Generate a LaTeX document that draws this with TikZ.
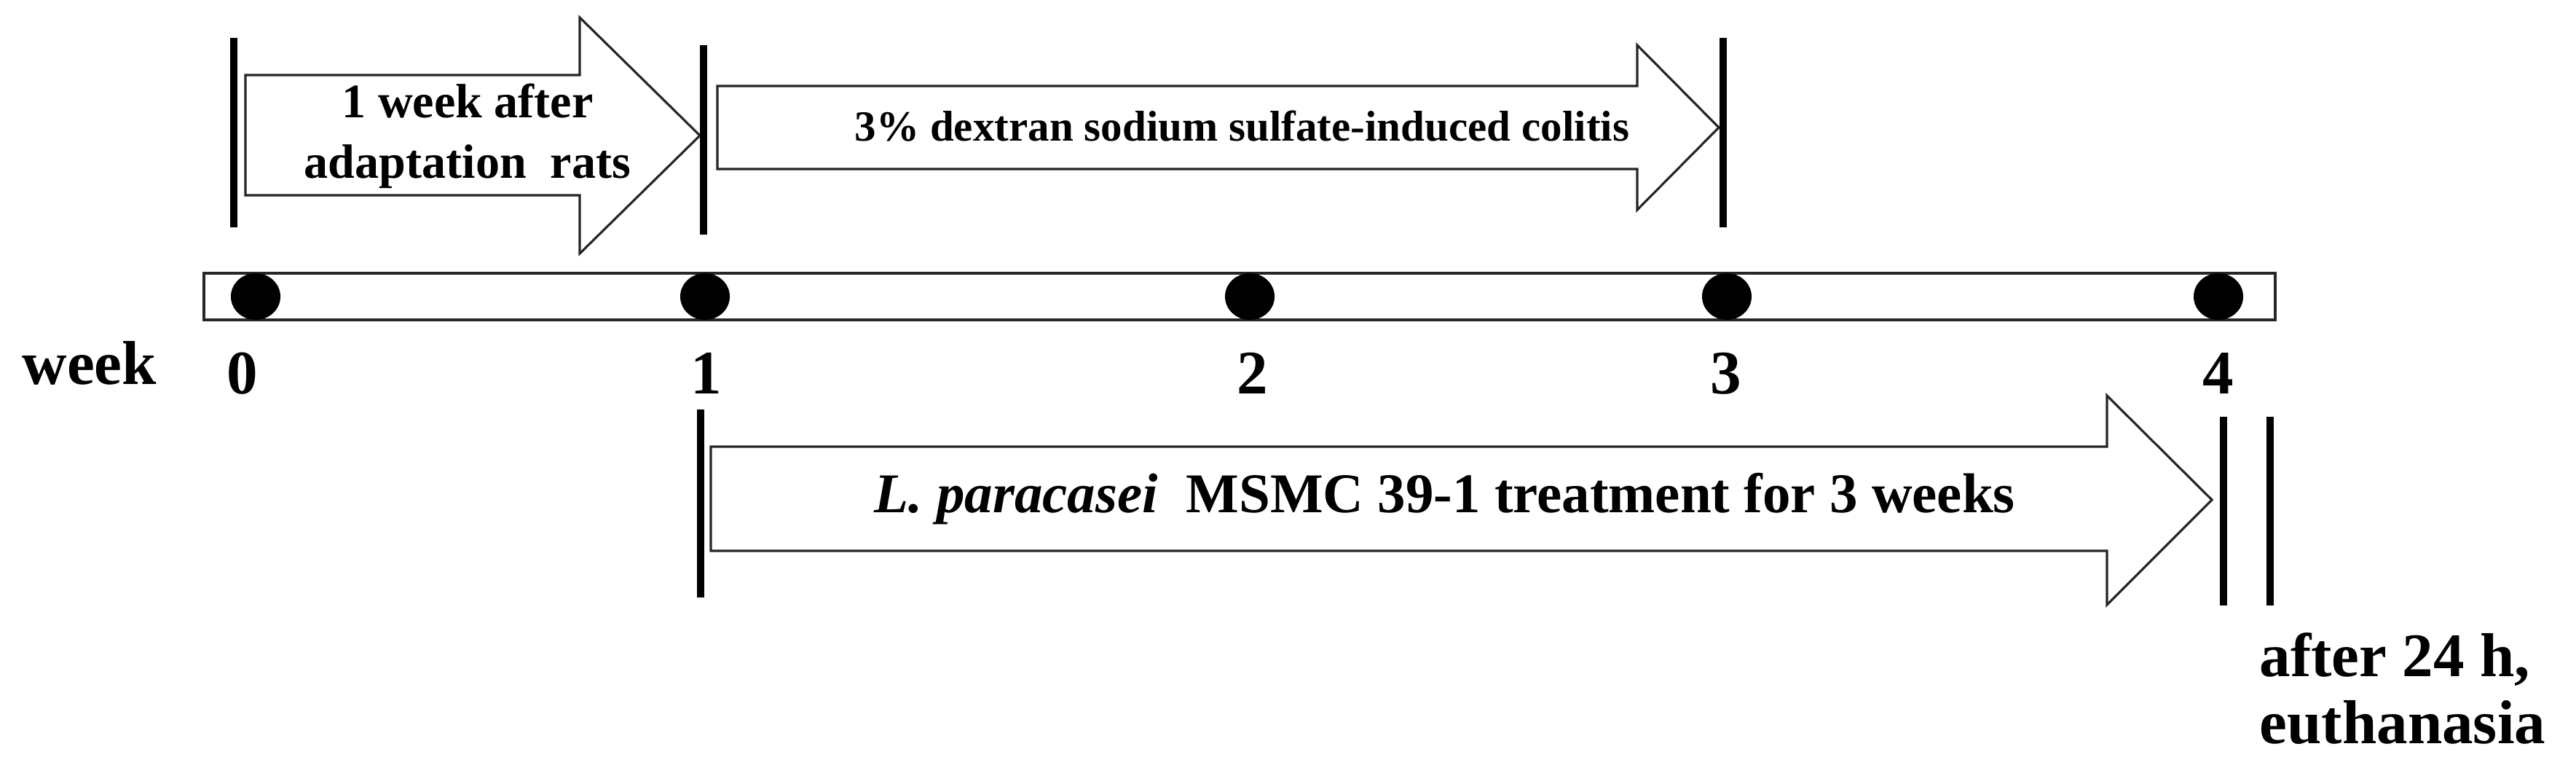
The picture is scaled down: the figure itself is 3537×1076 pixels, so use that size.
\documentclass[tikz,border=0pt]{standalone}
\usepackage{fontspec}
\setmainfont{Liberation Serif}
\usetikzlibrary{shapes.geometric}
\begin{document}
\begin{tikzpicture}[x=0.01cm,y=-0.01cm,
  arrowbox/.style={draw=black!85, line width=0.9pt, fill=white, line join=miter},
  tickbar/.style={line width=2.6pt, black},
  dotmark/.style={ellipse, fill=black, draw=none, minimum width=0.68cm, minimum height=0.64cm, inner sep=0pt},
  weeklab/.style={font=\bfseries\fontsize{24.2}{28}\selectfont, inner sep=0pt, anchor=base},
  txtA/.style={font=\bfseries\fontsize{18.8}{22}\selectfont, inner sep=0pt, anchor=base},
  txtB/.style={font=\bfseries\fontsize{16.8}{20}\selectfont, inner sep=0pt, anchor=base west},
  txtC/.style={font=\bfseries\fontsize{21.9}{26}\selectfont, inner sep=0pt, anchor=base west},
  txtD/.style={font=\bfseries\fontsize{24.2}{28}\selectfont, inner sep=0pt, anchor=base west}
]
\useasboundingbox (0,0) rectangle (3537,1076);

% top arrows
\draw[arrowbox] (337,103) -- (796,103) -- (796,24) -- (961,186) -- (796,348) -- (796,268) -- (337,268) -- cycle;
\draw[arrowbox] (985,118) -- (2248,118) -- (2248,62) -- (2360,175) -- (2248,288) -- (2248,232) -- (985,232) -- cycle;
% bottom arrow
\draw[arrowbox] (976,613) -- (2893,613) -- (2893,543) -- (3037,686) -- (2893,830) -- (2893,756) -- (976,756) -- cycle;

% vertical bars
\draw[tickbar] (321,52) -- (321,312);
\draw[tickbar] (966,62) -- (966,322);
\draw[tickbar] (2366,52) -- (2366,312);
\draw[tickbar] (962,562) -- (962,820);
\draw[tickbar] (3053,572) -- (3053,831);
\draw[tickbar] (3117,572) -- (3117,831);

% timeline
\draw[line width=1pt, black!85] (280,375) rectangle (3124,439);
\node[dotmark] (d0) at (351,407) {};
\node[dotmark] (d1) at (968,407) {};
\node[dotmark] (d2) at (1716,407) {};
\node[dotmark] (d3) at (2371,407) {};
\node[dotmark] (d4) at (3046,407) {};

% labels
\node[txtD] (wk) at (30,527) {week};
\node[weeklab] (l0) at (333,540) {0};
\node[weeklab] (l1) at (970,540) {1};
\node[weeklab] (l2) at (1720,540) {2};
\node[weeklab] (l3) at (2370,540) {3};
\node[weeklab] (l4) at (3046,540) {4};

% texts
\node[txtA] (t1a) at (642,162) {1 week after};
\node[txtA] (t1b) at (642,245) {adaptation\ \ rats};
\node[txtB] (t2) at (1173,193) {3\% dextran sodium sulfate-induced colitis};
\node[txtC] (t3) at (1200,703) {\textit{L. paracasei}\ \ MSMC 39-1 treatment for 3 weeks};
\node[txtD] (t4a) at (3102,928) {after 24 h,};
\node[txtD] (t4b) at (3102,1020) {euthanasia};
\end{tikzpicture}
\end{document}
